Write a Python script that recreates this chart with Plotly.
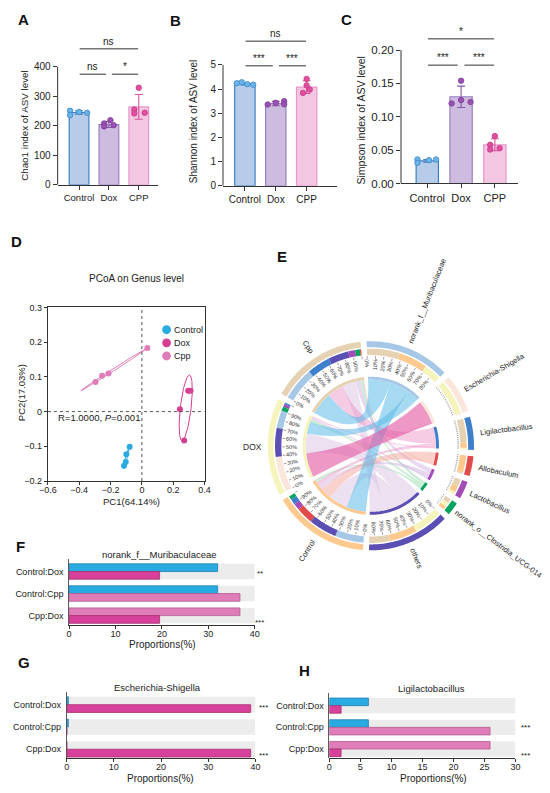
import math
import numpy as np
import plotly.graph_objects as go

W, H = 550, 793
FONT = "Liberation Sans, Arial, Helvetica, sans-serif"
TXT = "#222222"
AX = "#333333"

# ===================== DATA =====================
alpha_groups = ["Control", "Dox", "CPP"]

chao1_mean = [245, 204, 264]
chao1_sd = [6, 10, 42]
chao1_control = [251, 247, 244, 236]
chao1_dox = [219, 208, 198, 202]
chao1_cpp = [329, 255, 244, 242]
chao1_sig = ["ns", "*", "ns"]          # Control-Dox, Dox-CPP, Control-CPP

shannon_mean = [4.21, 3.40, 4.08]
shannon_sd = [0.04, 0.09, 0.26]
shannon_control = [4.24, 4.28, 4.20, 4.18]
shannon_dox = [3.36, 3.43, 3.50, 3.37]
shannon_cpp = [4.42, 4.15, 3.98, 3.84]
shannon_sig = ["***", "***", "ns"]

simpson_mean = [0.034, 0.130, 0.058]
simpson_sd = [0.002, 0.016, 0.009]
simpson_control = [0.036, 0.031, 0.035, 0.036]
simpson_dox = [0.154, 0.125, 0.120, 0.122]
simpson_cpp = [0.071, 0.058, 0.053, 0.051]
simpson_sig = ["***", "***", "*"]

pcoa_groups = ["Control", "Dox", "Cpp"]
pc1_control = [-0.078, -0.099, -0.103, -0.114]
pc2_control = [-0.101, -0.123, -0.145, -0.156]
pc1_dox = [0.243, 0.296, 0.311, 0.270]
pc2_dox = [0.007, 0.060, 0.060, -0.083]
pc1_cpp = [0.035, -0.213, -0.254, -0.296]
pc2_cpp = [0.183, 0.110, 0.103, 0.085]

chord_samples = ["Control", "DOX", "Cpp"]
genus_names = ["norank_f__Muribaculaceae", "Escherichia-Shigella", "Ligilactobacillus",
               "Allobaculum", "Lactobacillus", "norank_o__Clostridia_UCG-014", "others"]
# relative abundance (%) in Control, DOX, Cpp
muribaculaceae = [32.0, 19.5, 36.8]
escherichia = [0.35, 39.0, 0.08]
ligilactobacillus = [6.3, 1.9, 25.9]
allobaculum = [19.0, 0.0, 1.5]
lactobacillus = [7.0, 3.0, 8.0]
clostridia_ucg014 = [4.0, 4.6, 5.0]
others = [31.35, 32.0, 22.72]

pair_rows = ["Control:Dox", "Control:Cpp", "Cpp:Dox"]
pair_members = [(0, 1), (0, 2), (2, 1)]
sig_f = ["**", "", "***"]
sig_g = ["***", "", "***"]
sig_h = ["", "***", "***"]

# point jitter (x offsets, category units)
jit_chao1 = [[-0.3, 0.0, 0.27, -0.3], [0.05, -0.16, -0.16, 0.16], [0.0, -0.15, 0.2, -0.15]]
jit_shannon = [[-0.26, -0.1, 0.08, 0.27], [-0.26, 0.0, 0.27, 0.27], [0.0, 0.0, 0.1, -0.12]]
jit_simpson = [[-0.29, -0.29, 0.05, 0.26], [0.0, 0.0, -0.28, 0.28], [0.0, -0.14, 0.14, -0.14]]

# ===================== STYLE =====================
bar_fill = ["#B7CCE8", "#CDBCDF", "#F3C6E2"]
bar_edge = ["#3F7FC4", "#9A80C2", "#E796CB"]
pt_fill = ["#6BB4E8", "#9A52B2", "#E0509E"]
pt_edge = ["#3F86C8", "#7E3C98", "#C83A88"]
err_col = ["#3F7FC4", "#8459A8", "#D9559E"]
pcoa_col = ["#29ABE2", "#D63E92", "#DE7DB8"]
pair_col = ["#29ABE2", "#D8419B", "#DF7DB9"]
pair_edge = ["#1F7FB0", "#A8306F", "#B25A90"]

sector_col = ["#A7C7E7", "#FBE6DC", "#3E7FCB", "#E14B4B", "#A24CB8", "#00A35C", "#5B4FB3",
              "#FDC98E", "#F6F4BD", "#E4D2B2"]
chord_col = ["rgba(92,185,232,0.55)", "rgba(226,84,160,0.60)", "rgba(236,140,196,0.45)",
             "rgba(246,165,155,0.50)", "rgba(205,170,225,0.45)", "rgba(150,220,175,0.50)",
             "rgba(220,195,228,0.50)"]

fig = go.Figure()
shapes = []
annotations = []
layout_axes = {}


def PX(px):
    return px / W


def PY(py):
    return 1 - py / H


def ann(x, y, text, size, xref="paper", yref="paper", xanchor="center", yanchor="middle",
        angle=0, color=TXT, yshift=0):
    annotations.append(dict(x=x, y=y, xref=xref, yref=yref, text=text, showarrow=False,
                            xanchor=xanchor, yanchor=yanchor, textangle=angle, yshift=yshift,
                            font=dict(family=FONT, size=size, color=color)))


def letter(cx, cy, t):
    ann(PX(cx), PY(cy), "<b>" + t + "</b>", 15, color="#111")


# ===================== A - C =====================
alpha_specs = [
    dict(k="", mean=chao1_mean, sd=chao1_sd, pts=[chao1_control, chao1_dox, chao1_cpp], jit=jit_chao1,
         xl=50, xr=153, c0=72, pitch=30.7, zero=182.3, topv=400, top_px=62.7, dom_top=20,
         tv=[0, 100, 200, 300, 400], tt=["0", "100", "200", "300", "400"],
         title="Chao1 index of ASV level", tx=16, ty=122, fy=10, fx=9.5, ft=9.8,
         sig=chao1_sig, lo=375, hi=461, L="A", Lxy=(14.5, 15)),
    dict(k="2", mean=shannon_mean, sd=shannon_sd, pts=[shannon_control, shannon_dox, shannon_cpp], jit=jit_shannon,
         xl=220, xr=337, c0=242.5, pitch=31.75, zero=183.3, topv=5, top_px=60.7, dom_top=20,
         tv=[0, 1, 2, 3, 4, 5], tt=["0", "1", "2", "3", "4", "5"],
         title="Shannon index of ASV level", tx=190, ty=118, fy=10, fx=10, ft=10,
         sig=shannon_sig, lo=4.96, hi=5.98, L="B", Lxy=(171, 16)),
    dict(k="3", mean=simpson_mean, sd=simpson_sd, pts=[simpson_control, simpson_dox, simpson_cpp], jit=jit_simpson,
         xl=403, xr=523, c0=430, pitch=34.75, zero=181, topv=0.2, top_px=45.7, dom_top=18,
         tv=[0, 0.05, 0.1, 0.15, 0.2], tt=["0.00", "0.05", "0.10", "0.15", "0.20"],
         title="Simpson index of ASV level", tx=362, ty=117, fy=11.5, fx=11, ft=10.5,
         sig=simpson_sig, lo=0.1774, hi=0.2168, L="C", Lxy=(346.7, 15)),
]

for sp in alpha_specs:
    k = sp["k"]
    xa, ya = "x" + k, "y" + k
    ymax = sp["topv"] * (sp["zero"] - sp["dom_top"]) / (sp["zero"] - sp["top_px"])
    xr = [-(sp["c0"] - sp["xl"]) / sp["pitch"], (sp["xr"] - sp["c0"]) / sp["pitch"]]
    layout_axes["xaxis" + k] = dict(domain=[PX(sp["xl"]), PX(sp["xr"])], range=xr, anchor=ya,
                                    tickvals=[0, 1, 2], ticktext=alpha_groups, showline=True,
                                    linecolor=AX, linewidth=1, ticks="outside", ticklen=4,
                                    tickcolor=AX, showgrid=False, zeroline=False,
                                    tickfont=dict(family=FONT, size=sp["fx"], color=TXT))
    layout_axes["yaxis" + k] = dict(domain=[PY(sp["zero"]), PY(sp["dom_top"])], range=[0, ymax],
                                    anchor=xa, tickvals=sp["tv"], ticktext=sp["tt"], showline=False,
                                    ticks="outside", ticklen=4, tickcolor=AX, showgrid=False,
                                    zeroline=False, tickfont=dict(family=FONT, size=sp["fy"], color=TXT))
    shapes.append(dict(type="line", xref=xa + " domain", yref=ya, x0=0, x1=0, y0=0, y1=sp["topv"],
                       line=dict(color=AX, width=1)))
    for i in range(3):
        fig.add_trace(go.Bar(x=[i], y=[sp["mean"][i]], width=0.66, xaxis=xa, yaxis=ya,
                             marker=dict(color=bar_fill[i], line=dict(color=bar_edge[i], width=1.2)),
                             error_y=dict(type="data", array=[sp["sd"][i]], color=err_col[i],
                                          thickness=1.1, width=4),
                             showlegend=False, hoverinfo="skip"))
    for i in range(3):
        fig.add_trace(go.Scatter(x=[i + j for j in sp["jit"][i]], y=sp["pts"][i], mode="markers",
                                 xaxis=xa, yaxis=ya, cliponaxis=False,
                                 marker=dict(size=5.5, color=pt_fill[i], line=dict(color=pt_edge[i], width=0.8)),
                                 showlegend=False, hoverinfo="skip"))
    for (x0, x1, yv, txt) in [(0.02, 0.9, sp["lo"], sp["sig"][0]), (1.1, 1.98, sp["lo"], sp["sig"][1]),
                              (0.02, 1.98, sp["hi"], sp["sig"][2])]:
        shapes.append(dict(type="line", xref=xa, yref=ya, x0=x0, x1=x1, y0=yv, y1=yv,
                           line=dict(color=AX, width=1)))
        ann((x0 + x1) / 2, yv, txt, 10, xref=xa, yref=ya, yanchor="bottom", yshift=0)
    ann(PX(sp["tx"]), PY(sp["ty"]), sp["title"], sp["ft"], angle=-90)
    letter(sp["Lxy"][0], sp["Lxy"][1], sp["L"])

# ===================== D: PCoA =====================
layout_axes["xaxis4"] = dict(domain=[PX(40), PX(201)], range=[-0.6, 0.4], anchor="y4",
                             tickvals=[-0.6, -0.4, -0.2, 0, 0.2, 0.4], showline=True, mirror=True,
                             linecolor=AX, linewidth=1, ticks="outside", ticklen=3, tickcolor=AX,
                             showgrid=False, zeroline=False, ticklabelstandoff=-3,
                             tickfont=dict(family=FONT, size=9, color=TXT))
layout_axes["yaxis4"] = dict(domain=[PY(482.7), PY(306.7)], range=[-0.2, 0.3], anchor="x4",
                             tickvals=[-0.2, -0.1, 0, 0.1, 0.2, 0.3], showline=True, mirror=True,
                             linecolor=AX, linewidth=1, ticks="outside", ticklen=3, tickcolor=AX,
                             showgrid=False, zeroline=False, tickfont=dict(family=FONT, size=9, color=TXT))
shapes.append(dict(type="line", xref="x4", yref="y4", x0=0, x1=0, y0=-0.2, y1=0.3,
                   line=dict(color="#555", width=1, dash="dot")))
shapes.append(dict(type="line", xref="x4", yref="y4", x0=-0.6, x1=0.4, y0=0, y1=0,
                   line=dict(color="#555", width=1, dash="dot")))

ELL_K = 1.4
tt = np.linspace(0, 2 * np.pi, 120)
for gi, (px_, py_) in enumerate([(pc1_control, pc2_control), (pc1_dox, pc2_dox), (pc1_cpp, pc2_cpp)]):
    xs = np.array(px_)
    ys = np.array(py_)
    cov = np.cov(np.vstack([xs, ys]))
    vals, vecs = np.linalg.eigh(cov)
    vals = np.clip(vals, 1e-7, None)
    circ = np.vstack([np.cos(tt), np.sin(tt)]) * (ELL_K * np.sqrt(vals))[:, None]
    ell = vecs @ circ
    fig.add_trace(go.Scatter(x=xs.mean() + ell[0], y=ys.mean() + ell[1], mode="lines",
                             xaxis="x4", yaxis="y4", line=dict(color=pcoa_col[gi], width=1),
                             showlegend=False, hoverinfo="skip"))
    fig.add_trace(go.Scatter(x=xs, y=ys, mode="markers", xaxis="x4", yaxis="y4",
                             marker=dict(size=6, color=pcoa_col[gi]), showlegend=False, hoverinfo="skip"))

for gi, name in enumerate(pcoa_groups):
    cy = 329.3 + 13.3 * gi
    shapes.append(dict(type="circle", xref="paper", yref="paper", x0=PX(157.5), x1=PX(166.5),
                       y0=PY(cy + 4.5), y1=PY(cy - 4.5), fillcolor=pcoa_col[gi], line=dict(width=0)))
    ann(PX(168), PY(cy), name, 9, xanchor="left")
ann(PX(48), PY(418.3), "R=1.0000, <i>P</i>=0.001", 9.5, xanchor="left")
ann(PX(131), PY(277.7), "PCoA on Genus level", 10)
ann(PX(126), PY(503.5), "PC1(64.14%)", 9.5)
ann(PX(13), PY(393), "PC2(17.03%)", 9.5, angle=-90)
letter(8, 240, "D")

# ===================== E: chord diagram =====================
CX, CY = 372, 447
layout_axes["xaxis5"] = dict(domain=[PX(250), PX(550)], range=[250 - CX, 550 - CX], anchor="y5",
                             visible=False, showgrid=False, zeroline=False)
layout_axes["yaxis5"] = dict(domain=[PY(610), PY(240)], range=[CY - 610, CY - 240], anchor="x5",
                             visible=False, showgrid=False, zeroline=False)
fig.add_trace(go.Scatter(x=[0], y=[0], mode="markers", xaxis="x5", yaxis="y5",
                         marker=dict(size=1, opacity=0), showlegend=False, hoverinfo="skip"))

genus_series = [muribaculaceae, escherichia, ligilactobacillus, allobaculum, lactobacillus,
                clostridia_ucg014, others]
NG, NS = len(genus_series), len(chord_samples)
sectors = []
for gi in range(NG):
    sectors.append(dict(name=genus_names[gi],
                        links=[(NG + si, genus_series[gi][si]) for si in range(NS) if genus_series[gi][si] > 0]))
for si in range(NS):
    sectors.append(dict(name=chord_samples[si],
                        links=[(gi, genus_series[gi][si]) for gi in range(NG) if genus_series[gi][si] > 0]))
for sec in sectors:
    sec["total"] = sum(v for _, v in sec["links"])

GAP = 3.4
START = -2.4
total_units = sum(sec["total"] for sec in sectors)
SCALE = (360 - GAP * len(sectors)) / total_units
ang = START
for sec in sectors:
    sec["a0"] = ang
    sec["a1"] = ang + sec["total"] * SCALE
    ang = sec["a1"] + GAP

slots = {}
for k, sec in enumerate(sectors):
    a = sec["a0"]
    for other, v in sorted(sec["links"], key=lambda t: -t[1]):
        slots[(k, other)] = (a, a + v * SCALE)
        a += v * SCALE


def pol(r, th):
    t = math.radians(th)
    return r * math.sin(t), r * math.cos(t)


def arc_coords(r, a0, a1):
    n = max(2, int(abs(a1 - a0) / 1.0) + 2)
    return [pol(r, a0 + (a1 - a0) * i / (n - 1)) for i in range(n)]


def f2(p):
    return "%.2f,%.2f" % (p[0], p[1])


def band_path(r0, r1, a0, a1):
    pts = arc_coords(r1, a0, a1) + arc_coords(r0, a1, a0)
    return "M" + f2(pts[0]) + "".join(" L" + f2(p) for p in pts[1:]) + " Z"


def ribbon_path(R, a0, a1, b0, b1):
    s = arc_coords(R, a0, a1)
    t = arc_coords(R, b0, b1)
    d = "M" + f2(s[0]) + "".join(" L" + f2(p) for p in s[1:])
    d += " Q0,0 " + f2(t[0]) + "".join(" L" + f2(p) for p in t[1:])
    d += " Q0,0 " + f2(s[0]) + " Z"
    return d


R_CH = 67
for gi in [6, 5, 4, 3, 2, 0, 1]:
    for si in range(NS):
        if genus_series[gi][si] <= 0:
            continue
        a0, a1 = slots[(NG + si, gi)]
        b0, b1 = slots[(gi, NG + si)]
        shapes.append(dict(type="path", xref="x5", yref="y5", path=ribbon_path(R_CH, a0, a1, b0, b1),
                           fillcolor=chord_col[gi], line=dict(width=0), layer="above"))

for k, sec in enumerate(sectors):
    shapes.append(dict(type="path", xref="x5", yref="y5", path=band_path(100, 106, sec["a0"], sec["a1"]),
                       fillcolor=sector_col[k], line=dict(width=0)))
    for other, v in sec["links"]:
        a0, a1 = slots[(k, other)]
        shapes.append(dict(type="path", xref="x5", yref="y5", path=band_path(92, 98.5, a0, a1),
                           fillcolor=sector_col[other], line=dict(width=0)))
    shapes.append(dict(type="path", xref="x5", yref="y5", path=band_path(67, 70, sec["a0"], sec["a1"]),
                       fillcolor=sector_col[k], line=dict(width=0)))
    labeled = sec["total"] >= 50
    step = 10 if labeled else 2.5
    d = ""
    v = 0.0
    while v <= sec["total"] + 1e-9:
        th = sec["a0"] + v * SCALE
        p0 = pol(88.5 if labeled else 89.0, th)
        p1 = pol(91.0 if labeled else 90.5, th)
        d += " M" + f2(p0) + " L" + f2(p1)
        v += step
    shapes.append(dict(type="path", xref="x5", yref="y5", path=d.strip(), line=dict(color="#555", width=0.6)))
    if labeled:
        for pct in range(0, int(math.ceil(sec["total"])), 10):
            th = sec["a0"] + pct * SCALE
            txt = "%d%%" % pct
            ln = (1.45 if pct == 0 else 2.0) * 5.5
            x, y = pol(87.5 - ln / 2, th)
            thm = th % 360
            ta = thm - 90 if thm < 180 else thm - 270
            ann(x, y, txt, 5.5, xref="x5", yref="y5", angle=ta, color="#333")


def text_width(s, size):
    w = 0.0
    for ch in s:
        if ch in "ijlI.,:;'|!":
            w += 0.24
        elif ch in "ftr()-[] ":
            w += 0.31
        elif ch in "mwMW%":
            w += 0.84
        elif ch.isupper():
            w += 0.68
        elif ch == "_":
            w += 0.556
        else:
            w += 0.54
    return w * size


for k, sec in enumerate(sectors):
    th = (sec["a0"] + sec["a1"]) / 2
    fs = 8.5 if sec["name"] == "DOX" else 7.5
    L = text_width(sec["name"], fs)
    x, y = pol(113 + L / 2, th)
    thm = th % 360
    ta = thm - 90 if thm < 180 else thm - 270
    ann(x, y, sec["name"], fs, xref="x5", yref="y5", angle=ta, color="#222")
letter(280.5, 255, "E")

# ===================== F - H: paired bars =====================
bar_specs = [
    dict(k="6", series=muribaculaceae, xl=61.7, xr=252.7, xmax=40, tv=[0, 10, 20, 30, 40],
         ctop=574.5, pitch=22.35, bottom=629, top=562, sig=sig_f, sigx=258,
         title=genus_names[0], titlexy=(155, 557.3), xt=(157.5, 648.5), L="F", Lxy=(12, 549)),
    dict(k="7", series=escherichia, xl=59.3, xr=253.3, xmax=40, tv=[0, 10, 20, 30, 40],
         ctop=709.5, pitch=22.6, bottom=764, top=697, sig=sig_g, sigx=261.7,
         title=genus_names[1], titlexy=(153, 691.7), xt=(155.7, 784), L="G", Lxy=(15.5, 666.7)),
    dict(k="8", series=ligilactobacillus, xl=329.3, xr=520.7, xmax=30, tv=[0, 5, 10, 15, 20, 25, 30],
         ctop=710.5, pitch=22.0, bottom=764, top=698, sig=sig_h, sigx=531,
         title=genus_names[2], titlexy=(434.3, 693.3), xt=(436, 784), L="H", Lxy=(303.5, 675)),
]
BGW = 0.70
for sp in bar_specs:
    k = sp["k"]
    xa, ya = "x" + k, "y" + k
    p = sp["pitch"]
    ymin = -(sp["bottom"] - (sp["ctop"] + 2 * p)) / p
    ymax = 2 + (sp["ctop"] - sp["top"]) / p
    layout_axes["xaxis" + k] = dict(domain=[PX(sp["xl"]), PX(sp["xr"])], range=[0, sp["xmax"]], anchor=ya,
                                    tickvals=sp["tv"], showline=True, linecolor=AX, linewidth=1,
                                    ticks="outside", ticklen=3, tickcolor=AX, showgrid=False, zeroline=False,
                                    ticklabelstandoff=-3, tickfont=dict(family=FONT, size=9, color=TXT))
    layout_axes["yaxis" + k] = dict(domain=[PY(sp["bottom"]), PY(sp["top"])], range=[ymin, ymax], anchor=xa,
                                    tickvals=[2, 1, 0], ticktext=pair_rows, showline=True, linecolor=AX,
                                    linewidth=0.8, ticks="", showgrid=False, zeroline=False,
                                    ticklabelstandoff=3, tickfont=dict(family=FONT, size=9, color=TXT))
    rows = [2, 1, 0]
    fig.add_trace(go.Bar(orientation="h", y=rows, x=[sp["xmax"]] * 3, width=BGW, xaxis=xa, yaxis=ya,
                         marker=dict(color="#ECECEC", line=dict(width=0)), showlegend=False, hoverinfo="skip"))
    top_y = [r + BGW / 4 for r in rows]
    bot_y = [r - BGW / 4 for r in rows]
    fig.add_trace(go.Bar(orientation="h", y=top_y, x=[sp["series"][a] for a, b in pair_members],
                         width=BGW / 2, xaxis=xa, yaxis=ya,
                         marker=dict(color=[pair_col[a] for a, b in pair_members],
                                     line=dict(color=[pair_edge[a] for a, b in pair_members], width=0.8)),
                         showlegend=False, hoverinfo="skip"))
    fig.add_trace(go.Bar(orientation="h", y=bot_y, x=[sp["series"][b] for a, b in pair_members],
                         width=BGW / 2, xaxis=xa, yaxis=ya,
                         marker=dict(color=[pair_col[b] for a, b in pair_members],
                                     line=dict(color=[pair_edge[b] for a, b in pair_members], width=0.8)),
                         showlegend=False, hoverinfo="skip"))
    for r, s in zip(rows, sp["sig"]):
        if not s:
            continue
        yv = r - 0.02 if r == 2 else (r + 0.08 if r == 1 else r - 0.2)
        ann((sp["sigx"] - sp["xl"]) / (sp["xr"] - sp["xl"]), yv, s, 8, xref=xa + " domain", yref=ya, yshift=-2)
    ann(PX(sp["titlexy"][0]), PY(sp["titlexy"][1]), sp["title"], 9.5)
    ann(PX(sp["xt"][0]), PY(sp["xt"][1]), "Proportions(%)", 10)
    letter(sp["Lxy"][0], sp["Lxy"][1], sp["L"])

fig.update_layout(width=W, height=H, autosize=False, margin=dict(l=0, r=0, t=0, b=0),
                  paper_bgcolor="white", plot_bgcolor="white", barmode="overlay",
                  showlegend=False, shapes=shapes, annotations=annotations,
                  font=dict(family=FONT, size=10, color=TXT), **layout_axes)
fig.write_html("out.html", config={"displayModeBar": False, "staticPlot": True},
               post_script="document.body.style.margin='0';document.body.style.overflow='hidden';")
